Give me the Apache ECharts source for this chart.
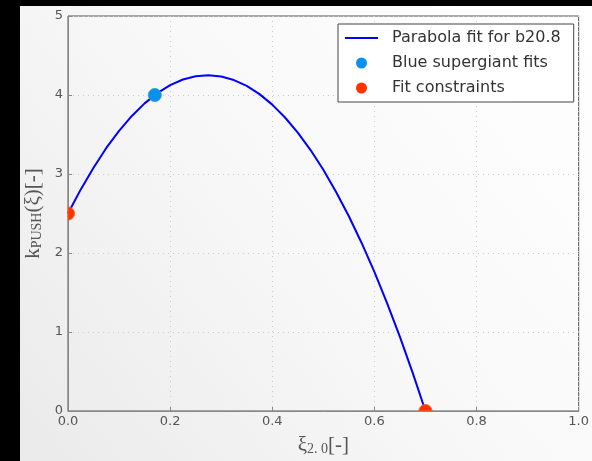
<!DOCTYPE html>
<html><head><meta charset="utf-8">
<script src="https://cdn.jsdelivr.net/npm/echarts@6/dist/echarts.min.js"></script>
<style>html,body{margin:0;padding:0;background:#000}#c{width:592px;height:461px}</style>
</head><body><div id="c"></div>
<script>
// Parabola fit samples (x, y)
const fitX = [0, 0.025, 0.05, 0.075, 0.1, 0.125, 0.15, 0.175, 0.2, 0.225, 0.25, 0.275, 0.3, 0.325, 0.35, 0.375, 0.4, 0.425, 0.45, 0.475, 0.5, 0.525, 0.55, 0.575, 0.6, 0.625, 0.65, 0.675, 0.7];
const fitY = [2.5, 2.805, 3.08, 3.33, 3.546, 3.735, 3.894, 4.024, 4.124, 4.196, 4.238, 4.251, 4.235, 4.189, 4.115, 4.011, 3.878, 3.715, 3.524, 3.303, 3.053, 2.773, 2.465, 2.127, 1.76, 1.363, 0.938, 0.483, 0];
const blueX = [0.17];
const blueY = [4.0];
const redX = [0.0, 0.7];
const redY = [2.5, 0.0];
const xTicks = [0, 0.2, 0.4, 0.6, 0.8, 1.0];
const yTicks = [0, 1, 2, 3, 4, 5];
const names = ['Parabola fit for b20.8', 'Blue supergiant fits', 'Fit constraints'];

const chart = echarts.init(document.getElementById('c'), null, {renderer: 'canvas'});
function markerSeries(name, xs, ys, color, edge) {
  return {
    type: 'custom', name: name, z: 5,
    itemStyle: {color: color},
    data: xs.map((x, i) => [x, ys[i]]),
    renderItem: function (params, api) {
      const p = api.coord([api.value(0), api.value(1)]);
      const cs = params.coordSys;
      const r = 6.5, pts = [];
      for (let k = 0; k < 64; k++) {
        const t = k / 64 * Math.PI * 2;
        let px = p[0] + r * Math.cos(t), py = p[1] + r * Math.sin(t);
        px = Math.min(Math.max(px, cs.x), cs.x + cs.width);
        py = Math.min(Math.max(py, cs.y), cs.y + cs.height);
        pts.push([px, py]);
      }
      return {type: 'polygon', shape: {points: pts},
        style: {fill: color, stroke: edge, lineWidth: 1}};
    }
  };
}
const serif = 'Liberation Serif';
const nameRich = {
  a: {fontFamily: serif, fontSize: 21, color: '#555', verticalAlign: 'bottom', lineHeight: 24},
  s: {fontFamily: serif, fontSize: 14, color: '#555', verticalAlign: 'bottom', lineHeight: 17}
};
chart.setOption({
  backgroundColor: '#000',
  animation: false,
  graphic: [{type: 'rect', z: -10, left: 20, top: 6, shape: {width: 572, height: 455},
    style: {fill: new echarts.graphic.LinearGradient(0, 1, 1, 0, [
      {offset: 0, color: '#eaeaea'}, {offset: 0.5, color: '#f8f8f8'}, {offset: 1, color: '#ffffff'}])}}],
  grid: {left: 68, right: 11, top: 16, bottom: 48, show: true, borderColor: '#555', borderWidth: 1, backgroundColor: 'transparent'},
  legend: {
    orient: 'vertical', left: 338, top: 24, padding: [6, 13, 6, 7],
    backgroundColor: '#fff', borderColor: '#444', borderWidth: 1, borderRadius: 0,
    itemWidth: 33, itemHeight: 11, itemGap: 9,
    textStyle: {fontFamily: 'DejaVu Sans', fontSize: 16, color: '#333', padding: [0, 0, 0, 9]},
    data: [
      {name: names[0], icon: 'path://M0,0 H100 V6 H0 Z'},
      {name: names[1], icon: 'circle'},
      {name: names[2], icon: 'circle'}
    ]
  },
  xAxis: {
    type: 'value', min: 0, max: 1, interval: 0.2,
    axisLine: {lineStyle: {color: '#888'}},
    axisTick: {inside: true, length: 4, lineStyle: {color: '#888'}},
    axisLabel: {fontFamily: 'DejaVu Sans', fontSize: 13, color: '#555', margin: 4,
      formatter: v => xTicks.includes(+v.toFixed(1)) ? v.toFixed(1) : ''},
    splitLine: {show: true, lineStyle: {color: '#ccc', type: [1, 4]}},
    name: '{a|ξ}{s|2. 0}{a|[-]}', nameLocation: 'middle', nameGap: 21,
    nameTextStyle: {rich: nameRich}
  },
  yAxis: {
    type: 'value', min: 0, max: 5, interval: 1,
    axisLine: {lineStyle: {color: '#888'}},
    axisTick: {inside: true, length: 4, lineStyle: {color: '#888'}},
    axisLabel: {fontFamily: 'DejaVu Sans', fontSize: 13, color: '#555', margin: 5,
      formatter: v => yTicks.includes(v) ? String(v) : ''},
    splitLine: {show: true, lineStyle: {color: '#ccc', type: [1, 4]}},
    name: '{a|k}{s|PUSH}{a|(ξ)[-]}', nameLocation: 'middle', nameGap: 19,
    nameTextStyle: {rich: nameRich}
  },
  series: [
    {type: 'line', name: names[0], symbol: 'none', showSymbol: false, smooth: false, z: 3,
      lineStyle: {color: '#0000ff', width: 2}, itemStyle: {color: '#0000ff'},
      data: fitX.map((x, i) => [x, fitY[i]])},
    markerSeries(names[1], blueX, blueY, '#0a90f0', '#3aa8b0'),
    markerSeries(names[2], redX, redY, '#ff3300', '#f07020')
  ]
});
</script></body></html>
